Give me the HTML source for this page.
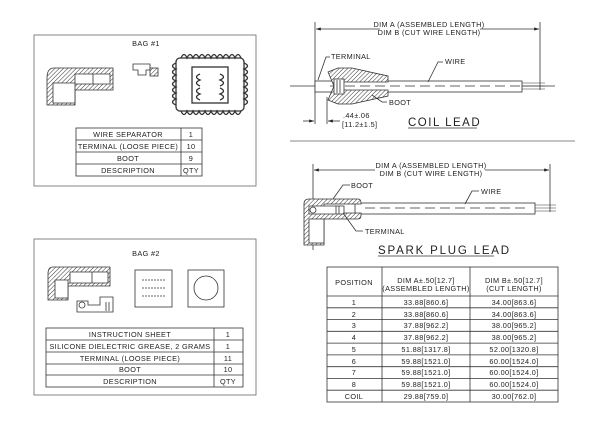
<!DOCTYPE html>
<html><head><meta charset="utf-8"><style>
html,body{margin:0;padding:0;background:#fff;width:600px;height:424px;overflow:hidden}
svg text{font-family:"Liberation Sans",sans-serif;font-size:7.3px;fill:#222;letter-spacing:0.35px}
</style></head><body>
<svg width="600" height="424" viewBox="0 0 600 424" xmlns="http://www.w3.org/2000/svg">
<defs>
<pattern id="h" width="3" height="3" patternUnits="userSpaceOnUse" patternTransform="rotate(45)">
<rect width="3" height="3" fill="#fff"/><line x1="0" y1="0" x2="0" y2="3" stroke="#333" stroke-width="1"/></pattern>
<marker id="a" markerWidth="6" markerHeight="4" refX="6" refY="2" orient="auto"><path d="M0,0L6,2L0,4z" fill="#222"/></marker>
</defs>
<g stroke="#333" fill="none" stroke-width="0.8">
<rect x="34" y="35" width="222" height="151" stroke="#666"/>
<rect x="76" y="128" width="126" height="48"/>
<line x1="181" y1="128" x2="181" y2="176"/>
<line x1="76" y1="140" x2="202" y2="140"/><line x1="76" y1="152" x2="202" y2="152"/><line x1="76" y1="164" x2="202" y2="164"/>
<path d="M54,68 H113 V90 H75 V105 H47 V78 Q47,68 54,68Z" fill="url(#h)"/>
<path d="M53,83 H75 V103 H53Z M75,74 H110 V84 H75Z M93,74 V84" fill="#fff"/>
<path d="M133,64 H150 V70 H146 V75 H138 V70 H133Z" fill="#fff"/>
<rect x="150" y="68" width="8" height="8" fill="url(#h)"/>
<g stroke-width="1.3">
<rect x="176" y="58" width="68" height="53" rx="4"/>
<rect x="192" y="67" width="36" height="36"/>
<path d="M181,58 q3,-7 6,0 q3,-7 6,0 q3,-7 6,0 q3,-7 6,0 q3,-7 6,0 q3,-7 6,0 q3,-7 6,0 q3,-7 6,0 q3,-7 6,0 q3,-7 6,0"/>
<path d="M181,111 q3,7 6,0 q3,7 6,0 q3,7 6,0 q3,7 6,0 q3,7 6,0 q3,7 6,0 q3,7 6,0 q3,7 6,0 q3,7 6,0 q3,7 6,0"/>
<path d="M176,63 q-7,3 0,6 q-7,3 0,6 q-7,3 0,6 q-7,3 0,6 q-7,3 0,6 q-7,3 0,6 q-7,3 0,6"/>
<path d="M244,63 q7,3 0,6 q7,3 0,6 q7,3 0,6 q7,3 0,6 q7,3 0,6 q7,3 0,6 q7,3 0,6"/>
<path d="M200,74 q-7,3 0,6 q-7,3 0,6 M200,88 q-7,3 0,6 q-7,3 0,6 M220,74 q7,3 0,6 q7,3 0,6 M220,88 q7,3 0,6 q7,3 0,6"/>
</g>
<rect x="34" y="239" width="222" height="156" stroke="#666"/>
<rect x="46" y="328" width="197" height="59"/>
<line x1="214" y1="328" x2="214" y2="387"/>
<line x1="46" y1="340" x2="243" y2="340"/><line x1="46" y1="352" x2="243" y2="352"/><line x1="46" y1="364" x2="243" y2="364"/><line x1="46" y1="375" x2="243" y2="375"/>
<path d="M53,267 H110 V286 H68 V300 H48 V274 Q48,267 53,267Z" fill="url(#h)"/>
<path d="M55,280 H68 V298 H55Z M70,272 H108 V283 H70Z M92,272 V283" fill="#fff"/>
<path d="M77,301 H88 V305 H100 V297 H113 V312 H77Z" fill="#fff"/>
<circle cx="82" cy="305" r="3"/><line x1="106" y1="302" x2="106" y2="311"/><line x1="109" y1="302" x2="109" y2="311"/>
<rect x="135" y="270" width="37" height="37"/>
<g stroke-dasharray="2,1"><line x1="142" y1="280" x2="166" y2="280"/><line x1="142" y1="288" x2="166" y2="288"/><line x1="142" y1="296" x2="166" y2="296"/></g>
<rect x="188" y="270" width="36" height="37"/>
<circle cx="206" cy="288" r="12"/>
<line x1="315" y1="22" x2="315" y2="124"/><line x1="540" y1="22" x2="540" y2="90"/>
<line x1="380" y1="29" x2="316" y2="29" marker-end="url(#a)"/><line x1="480" y1="29" x2="539" y2="29" marker-end="url(#a)"/>
<line x1="290" y1="86" x2="555" y2="86"/>
<rect x="315" y="81" width="207" height="11" fill="#fff"/>
<line x1="330" y1="86" x2="520" y2="86" stroke-dasharray="10,5"/>
<path d="M522,83 H545 M522,86 H545 M522,89 H545" stroke-width="0.6"/>
<path d="M328,72 L338,68 H352 L388,76 V82 H340 L334,86 Z" fill="url(#h)"/>
<path d="M328,100 L338,104 H352 L388,96 V90 H340 L334,86 Z" fill="url(#h)"/>
<rect x="334" y="79" width="10" height="15" fill="#fff"/>
<line x1="337" y1="80" x2="337" y2="93"/><line x1="340" y1="80" x2="340" y2="93"/>
<path d="M330,57 H326 L318,80"/>
<path d="M443,62 H438 L428,82"/>
<path d="M387,102 H382 L372,95"/>
<line x1="327" y1="97" x2="327" y2="124"/>
<line x1="303" y1="121" x2="314" y2="121" marker-end="url(#a)"/><line x1="340" y1="121" x2="328" y2="121" marker-end="url(#a)"/>
<line x1="408" y1="128" x2="477" y2="128"/>
<line x1="290" y1="141" x2="575" y2="141" stroke="#888" stroke-width="1"/>
<line x1="313" y1="164" x2="313" y2="250"/><line x1="550" y1="164" x2="550" y2="212"/>
<line x1="375" y1="170" x2="314" y2="170" marker-end="url(#a)"/><line x1="485" y1="170" x2="549" y2="170" marker-end="url(#a)"/>
<rect x="355" y="203" width="180" height="11" fill="#fff"/>
<line x1="365" y1="208" x2="530" y2="208" stroke-dasharray="10,5"/>
<path d="M535,205 H556 M535,208 H556 M535,211 H556" stroke-width="0.6"/>
<path d="M309,199 H358 Q361,199 361,203 V204 H324 V213 H361 V215 Q361,219 358,219 H324 V245 H304 V204 Q304,199 309,199Z" fill="url(#h)"/>
<path d="M309,206 H344 V214 H309Z" fill="#fff"/>
<circle cx="313" cy="210" r="3"/><line x1="336" y1="206" x2="336" y2="214"/><line x1="339" y1="206" x2="339" y2="214"/>
<rect x="309" y="219" width="15" height="24" fill="#fff"/>
<path d="M350,185 H343 L333,199"/>
<path d="M479,191 H472 L465,204"/>
<path d="M363,231 H356 L343,213"/>
<line x1="378" y1="256" x2="494" y2="256"/>
<rect x="327" y="267" width="231" height="135"/>
<line x1="382" y1="267" x2="382" y2="402"/><line x1="470" y1="267" x2="470" y2="402"/>
<line x1="327" y1="296" x2="558" y2="296"/><line x1="327" y1="307.8" x2="558" y2="307.8"/><line x1="327" y1="319.6" x2="558" y2="319.6"/><line x1="327" y1="331.3" x2="558" y2="331.3"/><line x1="327" y1="343.1" x2="558" y2="343.1"/><line x1="327" y1="354.9" x2="558" y2="354.9"/><line x1="327" y1="366.7" x2="558" y2="366.7"/><line x1="327" y1="378.4" x2="558" y2="378.4"/><line x1="327" y1="390.2" x2="558" y2="390.2"/>
</g>
<g text-anchor="middle">
<text x="146" y="46">BAG #1</text>
<text x="128" y="137">WIRE SEPARATOR</text><text x="191" y="137">1</text>
<text x="128" y="149">TERMINAL (LOOSE PIECE)</text><text x="191" y="149">10</text>
<text x="128" y="161">BOOT</text><text x="191" y="161">9</text>
<text x="128" y="173">DESCRIPTION</text><text x="191" y="173">QTY</text>
<text x="146" y="256">BAG #2</text>
<text x="130" y="337">INSTRUCTION SHEET</text><text x="228" y="337">1</text>
<text x="130" y="349">SILICONE DIELECTRIC GREASE, 2 GRAMS</text><text x="228" y="349">1</text>
<text x="130" y="361">TERMINAL (LOOSE PIECE)</text><text x="228" y="361">11</text>
<text x="130" y="372">BOOT</text><text x="228" y="372">10</text>
<text x="130" y="384">DESCRIPTION</text><text x="228" y="384">QTY</text>
<text x="429" y="27">DIM A (ASSEMBLED LENGTH)</text>
<text x="429" y="35">DIM B (CUT WIRE LENGTH)</text>
<text x="431" y="168">DIM A (ASSEMBLED LENGTH)</text>
<text x="431" y="176">DIM B (CUT WIRE LENGTH)</text>
<text x="354" y="285">POSITION</text>
<text x="426" y="283">DIM A±.50[12.7]</text><text x="426" y="291">(ASSEMBLED LENGTH)</text>
<text x="514" y="283">DIM B±.50[12.7]</text><text x="514" y="291">(CUT LENGTH)</text>
<text x="354" y="305">1</text><text x="426" y="305">33.88[860.6]</text><text x="514" y="305">34.00[863.6]</text>
<text x="354" y="317">2</text><text x="426" y="317">33.88[860.6]</text><text x="514" y="317">34.00[863.6]</text>
<text x="354" y="328">3</text><text x="426" y="328">37.88[962.2]</text><text x="514" y="328">38.00[965.2]</text>
<text x="354" y="340">4</text><text x="426" y="340">37.88[962.2]</text><text x="514" y="340">38.00[965.2]</text>
<text x="354" y="352">5</text><text x="426" y="352">51.88[1317.8]</text><text x="514" y="352">52.00[1320.8]</text>
<text x="354" y="364">6</text><text x="426" y="364">59.88[1521.0]</text><text x="514" y="364">60.00[1524.0]</text>
<text x="354" y="375">7</text><text x="426" y="375">59.88[1521.0]</text><text x="514" y="375">60.00[1524.0]</text>
<text x="354" y="387">8</text><text x="426" y="387">59.88[1521.0]</text><text x="514" y="387">60.00[1524.0]</text>
<text x="354" y="399">COIL</text><text x="426" y="399">29.88[759.0]</text><text x="514" y="399">30.00[762.0]</text>
</g>
<text x="331" y="59">TERMINAL</text>
<text x="445" y="64">WIRE</text>
<text x="389" y="105">BOOT</text>
<text x="343" y="118">.44±.06</text>
<text x="342" y="127">[11.2±1.5]</text>
<text x="408" y="126" style="font-size:11.5px;letter-spacing:1.5px">COIL LEAD</text>
<text x="351" y="188">BOOT</text>
<text x="481" y="194">WIRE</text>
<text x="365" y="234">TERMINAL</text>
<text x="378" y="254" style="font-size:11.5px;letter-spacing:1.8px">SPARK PLUG LEAD</text>
</svg>
</body></html>
